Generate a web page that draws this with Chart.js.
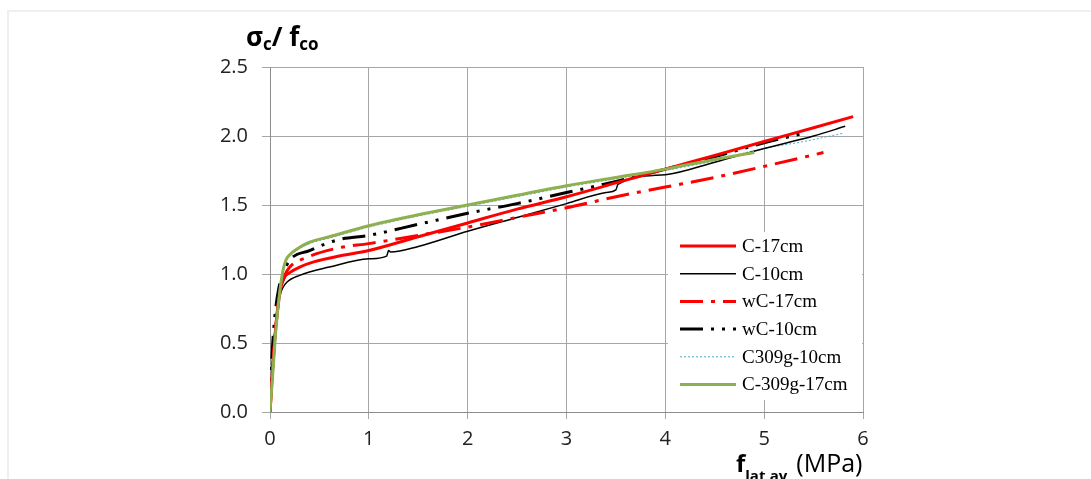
<!DOCTYPE html>
<html>
<head>
<meta charset="utf-8">
<script src="https://cdn.jsdelivr.net/npm/chart.js@4"></script>
<style>
  html, body { margin: 0; padding: 0; background: #fff; }
  #wrap { position: relative; width: 1091px; height: 479px; overflow: hidden; }
  #frame { position: absolute; left: 7px; top: 10px; width: 1100px; height: 520px; border: 2px solid #efefef; box-sizing: border-box; }
  canvas { position: absolute; left: 0; top: 0; }
</style>
</head>
<body>
<div id="wrap">
  <div id="frame"></div>
  <canvas id="stressChart" width="1091" height="479"></canvas>
</div>
<script>
// tick labels
const xTicks = [0, 1, 2, 3, 4, 5, 6];
const yTicks = [0.0, 0.5, 1.0, 1.5, 2.0, 2.5];

// series
const c17X = [0, 0.03, 0.07, 0.11, 0.15, 0.2, 0.3, 0.45, 0.7, 1.0, 1.5, 2.0, 2.5, 3.0, 3.5, 4.0, 4.5, 5.0, 5.5, 5.9];
const c17Y = [0, 0.35, 0.7, 0.9, 0.98, 1.01, 1.05, 1.09, 1.13, 1.17, 1.27, 1.37, 1.47, 1.56, 1.66, 1.76, 1.86, 1.96, 2.06, 2.14];

const c10X = [0, 0.02, 0.05, 0.09, 0.13, 0.17, 0.3, 0.6, 1.0, 1.18, 1.2, 1.22, 1.5, 2.0, 2.5, 3.0, 3.4, 3.5, 3.52, 4.0, 4.5, 5.0, 5.5, 5.82];
const c10Y = [0, 0.3, 0.6, 0.82, 0.9, 0.94, 0.99, 1.05, 1.11, 1.13, 1.17, 1.16, 1.2, 1.31, 1.41, 1.51, 1.59, 1.61, 1.65, 1.72, 1.81, 1.91, 2.0, 2.07];

const wc17X = [0, 0.03, 0.07, 0.11, 0.15, 0.2, 0.37, 0.7, 1.0, 1.5, 2.0, 2.5, 3.0, 3.5, 4.0, 4.5, 5.0, 5.6];
const wc17Y = [0, 0.35, 0.7, 0.9, 0.99, 1.05, 1.12, 1.19, 1.22, 1.28, 1.34, 1.41, 1.48, 1.56, 1.63, 1.7, 1.78, 1.88];

const wc10X = [0, 0.02, 0.05, 0.09, 0.13, 0.2, 0.4, 0.7, 1.0, 1.5, 2.0, 2.5, 3.0, 3.5, 4.0, 4.5, 5.0, 5.4];
const wc10Y = [0, 0.4, 0.7, 0.9, 1.0, 1.1, 1.17, 1.25, 1.28, 1.36, 1.44, 1.51, 1.59, 1.67, 1.76, 1.85, 1.95, 2.02];

const g10X = [0, 0.03, 0.06, 0.1, 0.13, 0.16, 0.2, 0.27, 0.4, 0.6, 1.0, 1.5, 2.0, 2.5, 3.0, 3.5, 4.0, 4.5, 4.93, 5.4, 5.8];
const g10Y = [0, 0.3, 0.6, 0.87, 1.01, 1.09, 1.13, 1.17, 1.22, 1.26, 1.34, 1.42, 1.49, 1.56, 1.63, 1.69, 1.75, 1.82, 1.9, 1.96, 2.02];

const g17X = [0, 0.03, 0.06, 0.1, 0.13, 0.16, 0.2, 0.27, 0.4, 0.6, 1.0, 1.5, 2.0, 2.5, 3.0, 3.5, 4.0, 4.5, 4.9];
const g17Y = [0, 0.3, 0.6, 0.88, 1.02, 1.1, 1.14, 1.18, 1.23, 1.27, 1.35, 1.43, 1.5, 1.57, 1.64, 1.7, 1.76, 1.83, 1.88];

function pts(xs, ys) {
    return xs.map(function (x, i) { return { x: x, y: ys[i] }; });
}

const tickFont = { family: 'Open Sans', size: 20 };
const gridColor = '#a6a6a6';

// legend drawn inside the plot, with the dash patterns
const insideLegend = {
    id: 'insideLegend',
    afterDraw(chart) {
        const c = chart.ctx;
        const area = chart.chartArea;
        const left = 668, top = 232;
        c.save();
        c.fillStyle = '#fff';
        c.fillRect(left, top, area.right - left - 1, 168);
        chart.data.datasets.forEach(function (ds, i) {
            const y = 246 + i * 27.7;
            c.beginPath();
            c.strokeStyle = ds.borderColor;
            c.lineWidth = ds.borderWidth;
            c.setLineDash(ds.borderDash || []);
            c.moveTo(680, y);
            c.lineTo(736, y);
            c.stroke();
            c.setLineDash([]);
            c.fillStyle = '#000';
            c.font = '19px "Liberation Serif"';
            c.textBaseline = 'middle';
            c.fillText(ds.label, 742, y + 1);
        });
        c.restore();
    }
};

// axis titles with subscripts
const axisTitles = {
    id: 'axisTitles',
    afterDraw(chart) {
        const c = chart.ctx;
        c.save();
        c.fillStyle = '#000';
        c.textBaseline = 'alphabetic';
        // y title
        let x = 246;
        c.font = 'bold 26px "Open Sans"';
        c.fillText('σ', x, 46);
        x += c.measureText('σ').width;
        c.font = 'bold 17px "Open Sans"';
        c.fillText('c', x, 50);
        x += c.measureText('c').width;
        c.font = 'bold 26px "Open Sans"';
        c.fillText('/ f', x, 46);
        x += c.measureText('/ f').width;
        c.font = 'bold 17px "Open Sans"';
        c.fillText('co', x, 50);
        // x title
        x = 736;
        c.font = 'bold 24px "Open Sans"';
        c.fillText('f', x, 472);
        x += c.measureText('f').width;
        c.font = 'bold 15px "Open Sans"';
        c.fillText('lat,av', x, 481);
        x += c.measureText('lat,av').width + 9;
        c.font = '25px "Open Sans"';
        c.fillText('(MPa)', x, 472);
        c.restore();
    }
};

const ctx = document.getElementById('stressChart').getContext('2d');
const stressChart = new Chart(ctx, {
    type: 'scatter',
    data: {
        datasets: [
            { label: 'C-17cm', data: pts(c17X, c17Y), borderColor: '#ff0000', borderWidth: 3, order: 1 },
            { label: 'C-10cm', data: pts(c10X, c10Y), borderColor: '#000000', borderWidth: 1.5, order: 3 },
            { label: 'wC-17cm', data: pts(wc17X, wc17Y), borderColor: '#ff0000', borderWidth: 3, borderDash: [23, 8, 4, 8], order: 2 },
            { label: 'wC-10cm', data: pts(wc10X, wc10Y), borderColor: '#000000', borderWidth: 3, borderDash: [23, 8, 3, 8, 3, 8], order: 4 },
            { label: 'C309g-10cm', data: pts(g10X, g10Y), borderColor: '#4bacc6', borderWidth: 1, borderDash: [2, 2], order: 5 },
            { label: 'C-309g-17cm', data: pts(g17X, g17Y), borderColor: '#8fb050', borderWidth: 3, order: 0 }
        ]
    },
    options: {
        responsive: false,
        animation: false,
        showLine: true,
        elements: { point: { radius: 0 }, line: { cubicInterpolationMode: 'monotone' } },
        layout: { padding: { left: 0, top: 67, right: 228, bottom: 17 } },
        plugins: { legend: { display: false }, tooltip: { enabled: false } },
        scales: {
            x: {
                type: 'linear', min: 0, max: 6,
                afterFit(s) { s.height = 50; },
                afterBuildTicks(s) { s.ticks = xTicks.map(function (v) { return { value: v }; }); },
                grid: { color: gridColor, tickLength: 7, tickColor: gridColor },
                border: { color: '#8c8c8c' },
                ticks: { font: tickFont, color: '#222', padding: 8 }
            },
            y: {
                type: 'linear', min: 0, max: 2.5,
                afterFit(s) { s.width = 270; },
                afterBuildTicks(s) { s.ticks = yTicks.map(function (v) { return { value: v }; }); },
                grid: { color: gridColor, tickLength: 8, tickColor: gridColor },
                border: { color: '#8c8c8c' },
                ticks: { font: tickFont, color: '#222', padding: 14,
                    callback: function (v) { return v.toFixed(1); } }
            }
        }
    },
    plugins: [insideLegend, axisTitles]
});
</script>
</body>
</html>
